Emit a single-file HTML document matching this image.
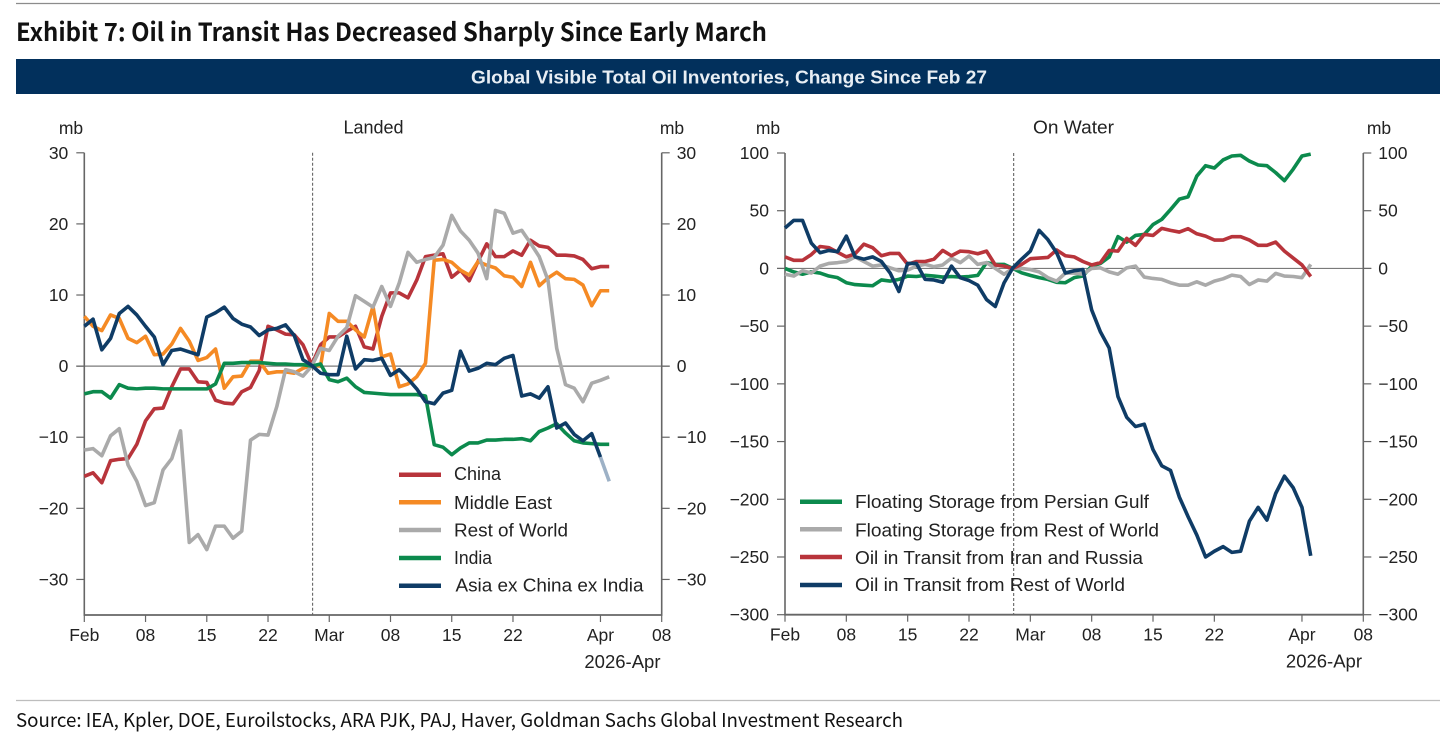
<!DOCTYPE html>
<html lang="en">
<head>
<meta charset="utf-8">
<title>Exhibit 7: Oil in Transit Has Decreased Sharply Since Early March</title>
<style>
html,body{margin:0;padding:0;background:#fff;width:1456px;height:748px;overflow:hidden}
svg{display:block}
text{font-family:"Liberation Sans",Arial,sans-serif;fill:#222;font-size:17.5px}
.gs{font-family:"Noto Sans CJK JP","Liberation Sans",sans-serif}
.leg{font-size:18px}
</style>
</head>
<body>
<svg id="chart" xmlns="http://www.w3.org/2000/svg" width="1456" height="748" viewBox="0 0 1456 748">
  <line x1="16" x2="1440" y1="3.5" y2="3.5" stroke="#8c8c8c" stroke-width="1.2"/>
  <text class="gs" x="16" y="41" textLength="751" lengthAdjust="spacingAndGlyphs" style="font-size:25px;font-weight:700;fill:#111">Exhibit 7: Oil in Transit Has Decreased Sharply Since Early March</text>
  <rect x="16" y="59" width="1424" height="35" fill="#02305c"/>
  <text x="729" y="83.5" text-anchor="middle" textLength="516" lengthAdjust="spacingAndGlyphs" style="font-size:18px;font-weight:700;fill:#e8eef4">Global Visible Total Oil Inventories, Change Since Feb 27</text>

  <text x="71" y="134" text-anchor="middle">mb</text>
  <text x="373.5" y="133.5" text-anchor="middle" style="font-size:18px">Landed</text>
  <text x="672" y="134" text-anchor="middle">mb</text>
  <text x="768" y="134" text-anchor="middle">mb</text>
  <text x="1033" y="133.5" textLength="81" lengthAdjust="spacingAndGlyphs" style="font-size:18px">On Water</text>
  <text x="1379" y="134" text-anchor="middle">mb</text>

  <g id="landed-panel"></g>
  <g id="water-panel"></g>

  <g>
    <g>
      <line x1="399" x2="441" y1="474.7" y2="474.7" stroke="#b8343b" stroke-width="4.5"/>
      <text class="leg" x="454" y="480" textLength="47" lengthAdjust="spacingAndGlyphs">China</text>
    </g>
    <g>
      <line x1="399" x2="441" y1="502.3" y2="502.3" stroke="#f58a24" stroke-width="4.5"/>
      <text class="leg" x="454" y="509" textLength="98" lengthAdjust="spacingAndGlyphs">Middle East</text>
    </g>
    <g>
      <line x1="399" x2="441" y1="530" y2="530" stroke="#aaaaaa" stroke-width="4.5"/>
      <text class="leg" x="454" y="536.5" textLength="114" lengthAdjust="spacingAndGlyphs">Rest of World</text>
    </g>
    <g>
      <line x1="399" x2="441" y1="558" y2="558" stroke="#0c8a4d" stroke-width="4.5"/>
      <text class="leg" x="454" y="564" textLength="38" lengthAdjust="spacingAndGlyphs">India</text>
    </g>
    <g>
      <line x1="399" x2="441" y1="585.7" y2="585.7" stroke="#0f3c66" stroke-width="4.5"/>
      <text class="leg" x="455.5" y="591.5" textLength="188" lengthAdjust="spacingAndGlyphs">Asia ex China ex India</text>
    </g>
  </g>

  <g>
    <g>
      <line x1="800" x2="842" y1="501.7" y2="501.7" stroke="#0c8a4d" stroke-width="4.5"/>
      <text class="leg" x="855" y="508" textLength="294" lengthAdjust="spacingAndGlyphs">Floating Storage from Persian Gulf</text>
    </g>
    <g>
      <line x1="800" x2="842" y1="529.3" y2="529.3" stroke="#aaaaaa" stroke-width="4.5"/>
      <text class="leg" x="855" y="536.5" textLength="304" lengthAdjust="spacingAndGlyphs">Floating Storage from Rest of World</text>
    </g>
    <g>
      <line x1="800" x2="842" y1="557" y2="557" stroke="#b8343b" stroke-width="4.5"/>
      <text class="leg" x="855" y="564" textLength="288" lengthAdjust="spacingAndGlyphs">Oil in Transit from Iran and Russia</text>
    </g>
    <g>
      <line x1="800" x2="842" y1="585" y2="585" stroke="#0f3c66" stroke-width="4.5"/>
      <text class="leg" x="855" y="591" textLength="270" lengthAdjust="spacingAndGlyphs">Oil in Transit from Rest of World</text>
    </g>
  </g>

  <line x1="16" x2="1440" y1="700.5" y2="700.5" stroke="#bdbdbd" stroke-width="1.2"/>
  <text class="gs" x="16" y="727" textLength="887" lengthAdjust="spacingAndGlyphs" style="font-size:19px;fill:#111">Source: IEA, Kpler, DOE, Euroilstocks, ARA PJK, PAJ, Haver, Goldman Sachs Global Investment Research</text>
</svg>

<script>
// Shared x axis (days since 1 Feb 2026)
const xTickDays = [0, 7, 14, 21, 28, 35, 42, 49, 59, 66];
const xTickLabels = ['Feb', '08', '15', '22', 'Mar', '08', '15', '22', 'Apr', '08'];
const eventDay = 26.1;

// Landed panel
const landedYTicks = [30, 20, 10, 0, -10, -20, -30];
const landedChina = [-15.5,-15,-16.4,-13.3,-13.1,-13,-11,-7.7,-6,-5.9,-2.9,-0.4,-0.4,-2.2,-2.3,-4.8,-5.2,-5.3,-3.6,-3,-0.6,5.6,5.1,4.5,4.4,3,0.2,3,4.1,4.1,4.9,5.6,2.7,2.4,7,10.3,10.3,9.6,12.1,15.4,15.6,15.8,12.5,13.5,12,14.7,17.2,15.4,15.4,16.2,15.6,17.7,16.9,16.7,15.6,15.6,15.5,15,13.7,14,14];
const landedMiddleEast = [7,5.6,5,7.2,6.7,3.9,3.3,4.2,1.6,1.7,3.1,5.3,3.5,0.8,1.2,2.4,-3.1,-1.5,-1.4,0.7,0.7,-1,-0.8,-0.8,-1,-0.3,0.1,0,7.4,6.3,6.3,5.1,4.1,8.4,1.3,1.7,-2.9,-2.5,-1.5,0.4,14.9,15,14.6,13.5,12.8,14.7,14.2,13.8,12.7,12.5,11.2,14.6,11.3,12.4,13.2,12.3,12.2,11.4,8.5,10.6,10.6];
const landedRestOfWorld = [-11.8,-11.6,-12.6,-9.8,-8.8,-13.9,-16.2,-19.6,-19.2,-14.6,-13,-9.1,-24.8,-23.7,-25.8,-22.5,-22.5,-24.2,-23.2,-10.4,-9.6,-9.7,-5.7,-0.5,-0.8,-1.4,0,2.5,2.2,4.2,5.4,9.9,9.1,8.3,11.2,8.4,11.7,16,14.6,15,15.3,17,21.2,19,17.7,15.9,12.3,21.9,21.5,18.7,19.1,17.3,15.4,12.1,2.5,-2.6,-3.1,-5,-2.4,-2,-1.5];
const landedIndia = [-3.9,-3.6,-3.6,-4.5,-2.6,-3.1,-3.2,-3.1,-3.1,-3.2,-3.2,-3.2,-3.2,-3.2,-3.2,-2.5,0.4,0.4,0.5,0.5,0.5,0.4,0.3,0.3,0.2,0.2,0,0.3,-1.9,-2.2,-1.7,-2.9,-3.7,-3.8,-3.9,-4,-4,-4,-4,-4.2,-11.05,-11.4,-12.45,-11.5,-10.8,-10.8,-10.4,-10.4,-10.3,-10.3,-10.2,-10.5,-9.2,-8.7,-8.1,-9.4,-10.5,-10.8,-10.9,-11,-11];
const landedAsiaExChinaExIndia = [5.6,6.6,2.3,3.9,7.4,8.4,7.2,5.6,4.1,0.2,2.2,2.4,2,1.6,6.9,7.5,8.3,6.7,5.9,5.5,4.3,5.1,5.3,5.8,4.3,0.9,0.1,-1,-1.2,-1.2,4.2,-0.4,0.9,0.8,1.1,-1.3,-0.5,-1.8,-3.2,-5,-5.3,-3.8,-3.4,2.1,-0.7,-0.3,0.4,0.2,1.1,1.5,-4.2,-3.9,-4.5,-2.9,-8.7,-8,-9.6,-10.5,-9.5,-12.8,-16.2];

// On Water panel
const waterYTicks = [100, 50, 0, -50, -100, -150, -200, -250, -300];
const waterFloatingGulf = [0,-3,-5,-3,-4,-6.6,-8,-12.4,-14,-14.5,-15,-10,-11,-9.5,-6.6,-7,-6,-6.6,-7.5,-7,-7.5,-7,-6,5,3.5,3.5,0,-3.8,-6,-8,-9.5,-12,-12.4,-8,-6.6,2,4.3,10,27.5,22.8,28.6,29.5,38,42.5,51,60,62,80,89,87,94,97.4,98,93,89.6,89,83,76,86,97.4,99];
const waterFloatingRest = [-5,-6.6,-2,-4,2,4.3,5,6,10,6,2,3,0.5,-2,-1.5,2,3.5,1.5,3,9,5,10.7,3.5,5,0,-5,0,0,-1,-3,-8,-11,-4,-4,-5,0,0.5,-3,-5,0.5,2,-7.5,-8.7,-9.5,-12.4,-14.5,-14.5,-11.6,-14.5,-11,-9,-5.8,-7,-14,-10,-11,-4.3,-6.6,-7,-8,3.5];
const waterTransitIranRussia = [10,7,7,12,19,18,14,10,12.7,21,18,11,13,13,3.5,6,6,8,15.6,11,15,14.5,12.7,15,3,2,0,3.5,8.4,9,9.5,16,11,10,6,3,5,15.6,15,26,20,29.5,28.6,34.7,33,31.5,34.4,30,28,24.6,24.6,27.5,27.5,24.6,20,20,22.8,15,9,3,-7];
const waterTransitRest = [35,41.6,41.6,22,13.6,15.6,14.5,28,10,8,10,6,-4,-20,4.3,4.3,-9.5,-10,-12,2,-8,-10.5,-14.5,-27,-33,-12.5,0.5,8,15,33,25,13.6,-4,-2,-1,-36,-55,-69,-111,-129,-137,-135,-157,-171,-175,-198,-215,-231,-250,-245,-241,-246,-245,-219,-207,-218,-195,-180,-190,-207,-249];

const COLORS = { red: '#b8343b', orange: '#f58a24', gray: '#aaaaaa', green: '#0c8a4d', navy: '#0f3c66' };
const NS = 'http://www.w3.org/2000/svg';
const AXIS = '#666666';

function make(tag, attrs, parent, content) {
  const el = document.createElementNS(NS, tag);
  for (const k in attrs) el.setAttribute(k, attrs[k]);
  if (content !== undefined) el.textContent = content;
  parent.appendChild(el);
  return el;
}
function fmt(v) { return v < 0 ? '\u2212' + Math.abs(v) : String(v); }
function pathFor(values, x, y, start) {
  return values.map((v, i) => (i ? 'L' : 'M') + x(i + (start || 0)).toFixed(2) + ' ' + y(v).toFixed(2)).join('');
}

function drawPanel(root, left, right, top, bottom, maxV, minV, yTicks, series) {
  const span = 66;
  const x = d => left + (right - left) * d / span;
  const y = v => top + (bottom - top) * (maxV - v) / (maxV - minV);

  // zero line
  const zero = make('line', { x1: left - 8, x2: right + 8, y1: y(0), y2: y(0), stroke: '#7a7a7a', 'stroke-width': 1.2 }, root);
  
  

  // event marker
  const marker = make('line', { x1: x(eventDay), x2: x(eventDay), y1: top, y2: bottom, stroke: '#555', 'stroke-width': 1, 'stroke-dasharray': '3 2' }, root);
  
  

  // axes
  const axisL = make('line', { x1: left, x2: left, y1: top, y2: bottom, stroke: AXIS, 'stroke-width': 1.6 }, root);
  
  
  const axisR = make('line', { x1: right, x2: right, y1: top, y2: bottom, stroke: AXIS, 'stroke-width': 1.6 }, root);
  
  
  const axisB = make('line', { x1: left - 0.8, x2: right + 0.8, y1: bottom, y2: bottom, stroke: AXIS, 'stroke-width': 1.8 }, root);
  
  

  yTicks.forEach(v => {
    const py = y(v);
    const tl = make('line', { x1: left - 8, x2: left, y1: py, y2: py, stroke: AXIS, 'stroke-width': 1.2 }, root);
    
    
    const tr = make('line', { x1: right, x2: right + 8, y1: py, y2: py, stroke: AXIS, 'stroke-width': 1.2 }, root);
    
    
    const ll = make('text', { x: left - 16, y: py + 6, 'text-anchor': 'end' }, root, fmt(v));
    
    
    const lr = make('text', { x: right + 15, y: py + 6 }, root, fmt(v));
    
    
  });

  xTickDays.forEach((d, i) => {
    const px = x(d);
    const t = make('line', { x1: px, x2: px, y1: bottom, y2: bottom + 7, stroke: AXIS, 'stroke-width': 1.2 }, root);
    
    
    const l = make('text', { x: px, y: bottom + 26, 'text-anchor': 'middle' }, root, xTickLabels[i]);
    
    
  });
  const yr = make('text', { x: x(59) + 22, y: bottom + 53, 'text-anchor': 'middle', style: 'font-size:18.5px' }, root, '2026-Apr');
  
  

  series.forEach(s => {
    const solid = s.fadedLast ? s.values.slice(0, -1) : s.values;
    const p = make('path', { d: pathFor(solid, x, y), fill: 'none', stroke: s.color, 'stroke-width': 3.6, 'stroke-linejoin': 'round', 'stroke-linecap': 'butt' }, root);
    
    
    if (s.fadedLast) {
      const tail = make('path', { d: pathFor(s.values.slice(-2), x, y, s.values.length - 2), fill: 'none', stroke: '#9db1c6', 'stroke-width': 3.6 }, root);
      
      
    }
  });
}

drawPanel(document.getElementById('landed-panel'), 84.3, 661.7, 152.8, 615, 30, -35, landedYTicks, [
  { name: 'line-china', color: COLORS.red, values: landedChina },
  { name: 'line-middle-east', color: COLORS.orange, values: landedMiddleEast },
  { name: 'line-rest-of-world', color: COLORS.gray, values: landedRestOfWorld },
  { name: 'line-india', color: COLORS.green, values: landedIndia },
  { name: 'line-asia-ex-china-ex-india', color: COLORS.navy, values: landedAsiaExChinaExIndia, fadedLast: true }
]);
drawPanel(document.getElementById('water-panel'), 785, 1363.3, 153, 614.7, 100, -300, waterYTicks, [
  { name: 'line-floating-persian-gulf', color: COLORS.green, values: waterFloatingGulf },
  { name: 'line-floating-rest-of-world', color: COLORS.gray, values: waterFloatingRest },
  { name: 'line-transit-iran-russia', color: COLORS.red, values: waterTransitIranRussia },
  { name: 'line-transit-rest-of-world', color: COLORS.navy, values: waterTransitRest }
]);
</script>
</body>
</html>
